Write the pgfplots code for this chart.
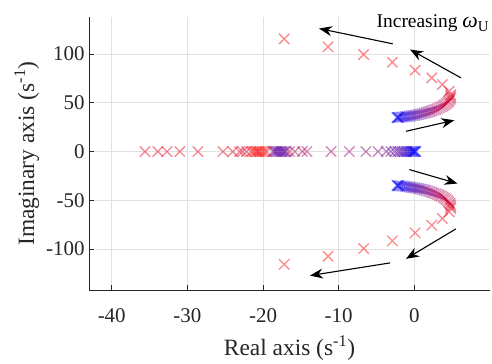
\documentclass[border=0pt]{standalone}
\usepackage{pgfplots}
\pgfplotsset{compat=1.18}
\usepackage{fontspec}
\setmainfont{Liberation Serif}
\usetikzlibrary{arrows.meta}
\definecolor{axgray}{RGB}{38,38,38}
\definecolor{gridgray}{RGB}{225,225,225}

\pgfplotstableread{
x y t
-2.3 34.8 0.00
-2.2 35.0 0.00
-2.1 35.0 0.02
-1.95 35.1 0.04
-1.7 35.3 0.08
-1.45 35.5 0.11
-1.2 35.8 0.14
-0.95 36.0 0.17
-0.7 36.3 0.20
-0.45 36.6 0.23
-0.2 36.9 0.26
0.05 37.2 0.29
0.3 37.6 0.32
0.55 38.0 0.35
0.8 38.4 0.38
1.05 38.9 0.41
1.3 39.4 0.44
1.55 39.9 0.47
1.8 40.5 0.50
2.05 41.1 0.53
2.3 41.8 0.56
2.55 42.5 0.59
2.8 43.2 0.62
3.05 44.0 0.65
3.3 44.9 0.67
3.55 45.8 0.69
3.8 46.8 0.71
4.0 47.9 0.73
4.2 49.0 0.75
4.4 50.3 0.77
4.55 51.7 0.79
4.7 53.2 0.81
4.78 54.8 0.83
4.82 56.5 0.85
4.8 58.3 0.87
4.6 61.8 0.90
3.7 68.7 0.93
2.3 75.6 0.95
0.1 83.4 0.97
-2.9 91.6 0.98
-6.7 99.5 0.99
-11.4 107.4 1.00
-17.2 115.6 1.00
}\upperbranch

\pgfplotstableread{
x y t
-2.3 -34.8 0.00
-2.2 -35.0 0.00
-2.1 -35.0 0.02
-1.95 -35.1 0.04
-1.7 -35.3 0.08
-1.45 -35.5 0.11
-1.2 -35.8 0.14
-0.95 -36.0 0.17
-0.7 -36.3 0.20
-0.45 -36.6 0.23
-0.2 -36.9 0.26
0.05 -37.2 0.29
0.3 -37.6 0.32
0.55 -38.0 0.35
0.8 -38.4 0.38
1.05 -38.9 0.41
1.3 -39.4 0.44
1.55 -39.9 0.47
1.8 -40.5 0.50
2.05 -41.1 0.53
2.3 -41.8 0.56
2.55 -42.5 0.59
2.8 -43.2 0.62
3.05 -44.0 0.65
3.3 -44.9 0.67
3.55 -45.8 0.69
3.8 -46.8 0.71
4.0 -47.9 0.73
4.2 -49.0 0.75
4.4 -50.3 0.77
4.55 -51.7 0.79
4.7 -53.2 0.81
4.78 -54.8 0.83
4.82 -56.5 0.85
4.8 -58.3 0.87
4.6 -61.8 0.90
3.7 -68.7 0.93
2.3 -75.6 0.95
0.1 -83.4 0.97
-2.9 -91.6 0.98
-6.7 -99.5 0.99
-11.4 -107.4 1.00
-17.2 -115.6 1.00
}\lowerbranch

\pgfplotstableread{
x y t
0.2 0 0.00
0.1 0 0.00
0.0 0 0.00
-0.1 0 0.00
-0.2 0 0.01
-0.35 0 0.03
-0.5 0 0.06
-0.7 0 0.10
-0.9 0 0.14
-1.1 0 0.18
-1.35 0 0.22
-1.6 0 0.26
-1.9 0 0.30
-2.2 0 0.34
-2.6 0 0.38
-3.1 0 0.42
-3.7 0 0.46
-4.8 0 0.50
-6.4 0 0.54
-8.6 0 0.58
-11.0 0 0.62
-14.2 0 0.64
-14.8 0 0.65
-15.8 0 0.66
-16.5 0 0.67
-16.9 0 0.68
-17.1 0 0.32
-17.3 0 0.33
-17.5 0 0.34
-17.7 0 0.35
-17.9 0 0.36
-18.1 0 0.37
-18.3 0 0.38
-18.5 0 0.40
-18.7 0 0.42
-19.5 0 0.97
-19.8 0 0.98
-20.1 0 0.99
-20.4 0 1.00
-20.6 0 1.00
-20.8 0 1.00
-21.0 0 1.00
-21.3 0 1.00
-21.6 0 1.00
-22.2 0 0.85
-22.7 0 0.85
-23.1 0 0.86
-24.0 0 0.87
-25.3 0 0.88
-28.6 0 0.90
-31.0 0 0.90
-32.7 0 0.90
-33.9 0 0.90
-35.6 0 0.90
}\realpoles

\begin{document}
\begin{tikzpicture}
\begin{axis}[
  name=ax,
  scale only axis,
  width=401bp, height=273bp,
  xmin=-43, xmax=10, ymin=-142, ymax=138,
  axis x line=bottom, axis y line=left,
  axis line style={axgray, line width=0.8bp, -},
  xtick={-40,-30,-20,-10,0},
  ytick={-100,-50,0,50,100},
  tick align=inside,
  major tick length=5bp,
  tick style={axgray, line width=0.8bp},
  grid=major,
  grid style={gridgray, line width=0.7bp},
  /pgf/number format/assume math mode=true,
  ticklabel style={font=\fontsize{21}{25}\selectfont, text=axgray},
  xticklabel style={yshift=-15bp},
  yticklabel style={xshift=-1bp},
  xlabel={Real axis (s\textsuperscript{-1})},
  ylabel={Imaginary axis (s\textsuperscript{-1})},
  label style={font=\fontsize{23.5}{28}\selectfont, text=axgray},
  xlabel style={yshift=-6bp},
  ylabel style={yshift=0bp},
  colormap={br}{rgb=(0,0,1) rgb=(1,0,0)},
  point meta min=0, point meta max=1,
  clip=false,
]
\pgfplotsset{polemarks/.style={scatter, only marks, mark=x, mark size=7.3bp,
  scatter src=explicit,
  scatter/use mapped color={draw=mapped color},
  mark options={line width=1.35bp, draw opacity=0.45}}}
\addplot[polemarks] table[x=x,y=y,meta=t] {\realpoles};
\addplot[polemarks] table[x=x,y=y,meta=t] {\upperbranch};
\addplot[polemarks] table[x=x,y=y,meta=t] {\lowerbranch};

\begin{scope}[black, line width=1.1bp, -{Stealth[length=13bp,width=10bp]}]
\draw (axis cs:-2.86,110.5) -- (axis cs:-12.6,126.2);
\draw (axis cs:6.16,75.6) -- (axis cs:-0.57,104.6);
\draw (axis cs:-1.1,20.8) -- (axis cs:5.28,32.1);
\draw (axis cs:-0.66,-18.5) -- (axis cs:5.7,-32.8);
\draw (axis cs:5.5,-79.3) -- (axis cs:-1.1,-110);
\draw (axis cs:-3.2,-114.2) -- (axis cs:-13.8,-127.2);
\end{scope}
\node[anchor=base west, inner sep=0pt, font=\fontsize{19.5}{23}\selectfont, text=black]
  at (axis cs:-5.0,127.5) {Increasing {\fontsize{22}{24}\selectfont\itshape ω}\raisebox{-0.45ex}{\fontsize{15}{18}\selectfont U}};
\end{axis}
\path ([shift={(-89bp,-69bp)}]ax.south west) rectangle ([shift={(2bp,17bp)}]ax.north east);
\end{tikzpicture}
\end{document}
